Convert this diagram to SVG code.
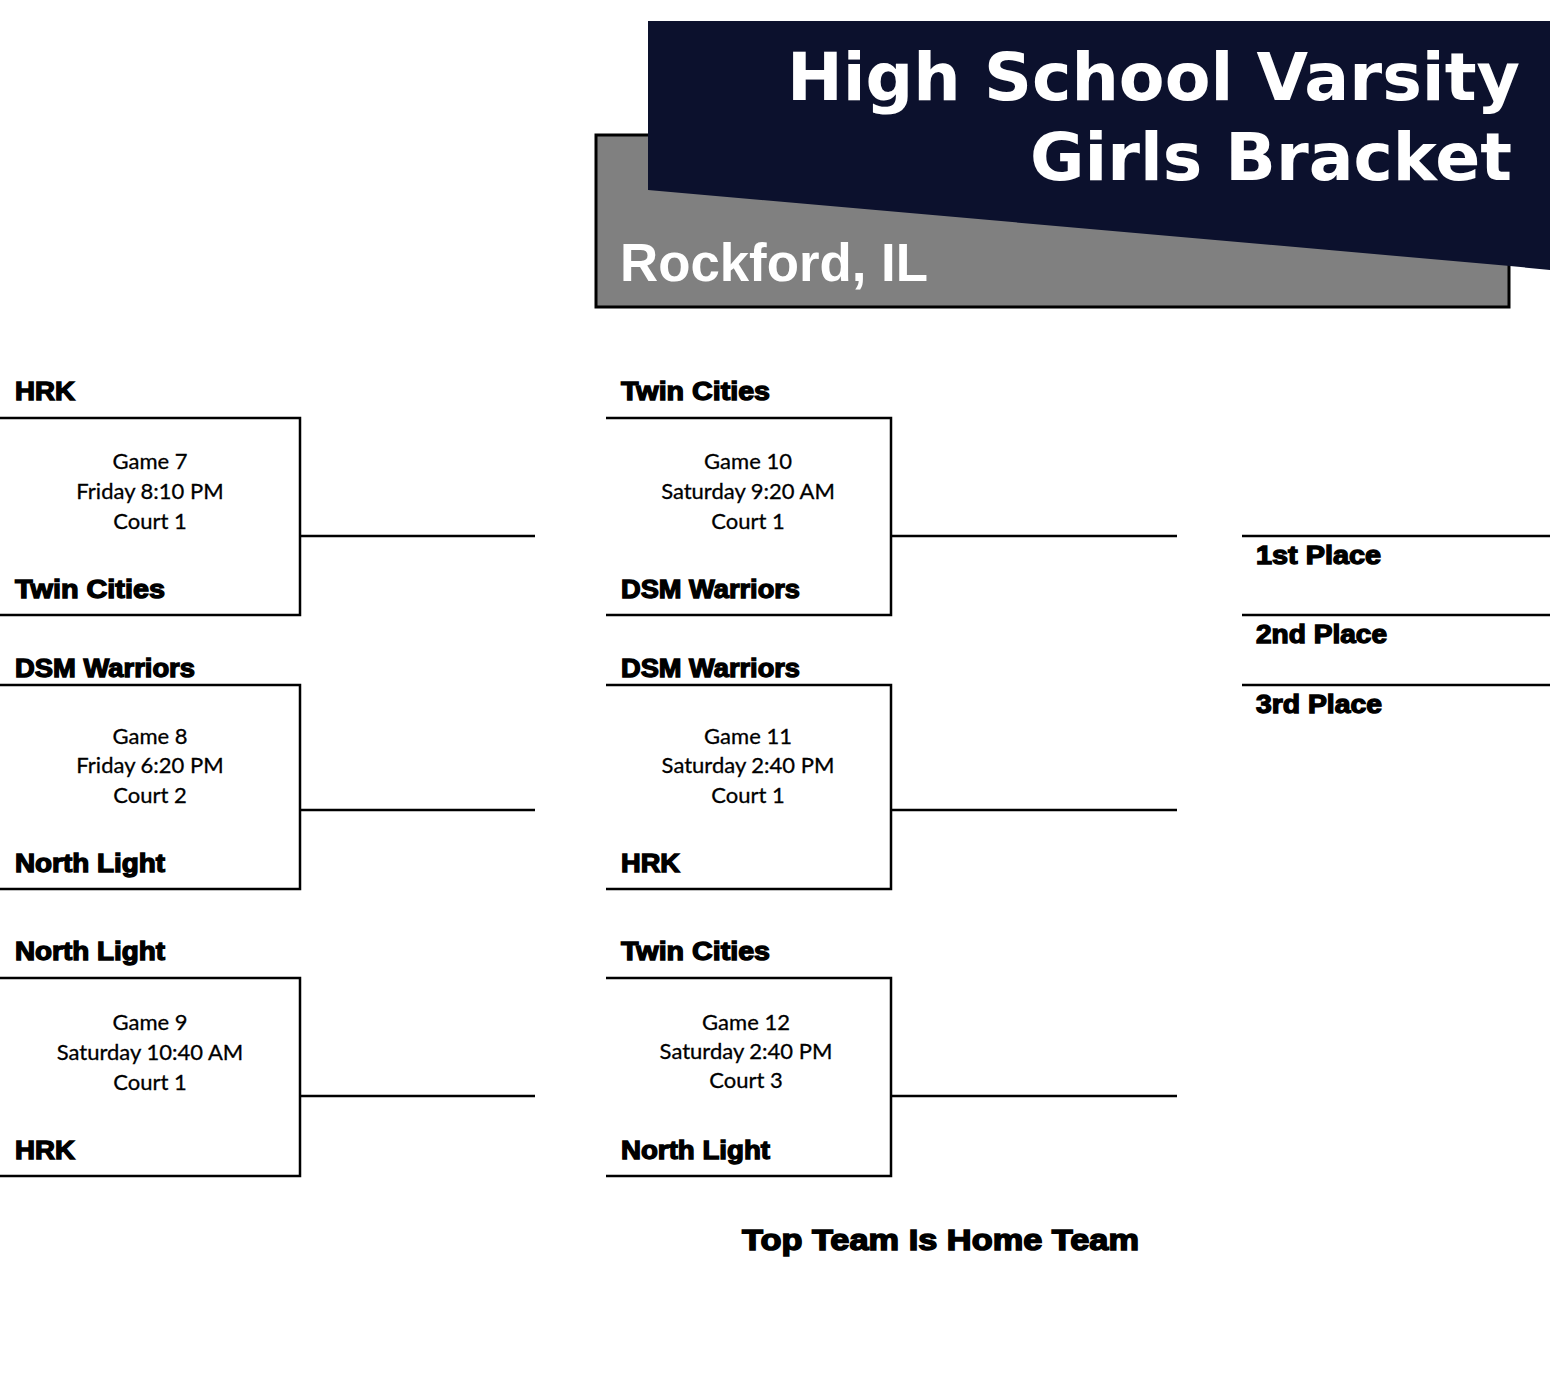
<svg xmlns="http://www.w3.org/2000/svg" width="1550" height="1392" viewBox="0 0 1550 1392">
<style>
.ln{stroke:#000;stroke-width:2.5;fill:none}
.team{font-family:"Liberation Sans",Arial,sans-serif;font-weight:bold;font-size:25px;fill:#000;stroke:#000;stroke-width:1.3}
.info{font-family:Lato,"Liberation Sans",sans-serif;font-size:22px;fill:#000;stroke:#000;stroke-width:0.3;text-anchor:middle}
.title{font-family:"DejaVu Sans",Verdana,sans-serif;font-weight:bold;font-size:66px;fill:#fff;text-anchor:end}
</style>
<rect width="1550" height="1392" fill="#fff"/>
<g id="header">
<rect x="596" y="135" width="913" height="172" fill="#808080" stroke="#000" stroke-width="3"/>
<polygon points="648,21 1550,21 1550,270 1510,266 648,190" fill="#0c112d"/>
<text class="title" x="1520" y="100" textLength="733" lengthAdjust="spacingAndGlyphs">High School Varsity</text>
<text class="title" x="1512" y="180" textLength="482" lengthAdjust="spacingAndGlyphs">Girls Bracket</text>
<text x="620" y="281" font-family="Liberation Sans,Arial,sans-serif" font-weight="bold" font-size="54" fill="#fff" textLength="308" lengthAdjust="spacingAndGlyphs">Rockford, IL</text>
</g>
<g id="connectors">
<line class="ln" x1="300" y1="536" x2="535" y2="536"/>
<line class="ln" x1="300" y1="810" x2="535" y2="810"/>
<line class="ln" x1="300" y1="1096" x2="535" y2="1096"/>
<line class="ln" x1="891" y1="536" x2="1177" y2="536"/>
<line class="ln" x1="891" y1="810" x2="1177" y2="810"/>
<line class="ln" x1="891" y1="1096" x2="1177" y2="1096"/>
</g>
<g id="game7">
<polyline class="ln" points="0,418 300,418 300,615 0,615"/>
<text class="team" x="15" y="400" textLength="60" lengthAdjust="spacingAndGlyphs">HRK</text>
<text class="info" x="150" y="469">Game 7</text>
<text class="info" x="150" y="499">Friday 8:10 PM</text>
<text class="info" x="150" y="529">Court 1</text>
<text class="team" x="15" y="598" textLength="150" lengthAdjust="spacingAndGlyphs">Twin Cities</text>
</g>
<g id="game8">
<polyline class="ln" points="0,685 300,685 300,889 0,889"/>
<text class="team" x="15" y="677" textLength="180" lengthAdjust="spacingAndGlyphs">DSM Warriors</text>
<text class="info" x="150" y="744">Game 8</text>
<text class="info" x="150" y="773">Friday 6:20 PM</text>
<text class="info" x="150" y="803">Court 2</text>
<text class="team" x="15" y="872" textLength="150" lengthAdjust="spacingAndGlyphs">North Light</text>
</g>
<g id="game9">
<polyline class="ln" points="0,978 300,978 300,1176 0,1176"/>
<text class="team" x="15" y="960" textLength="150" lengthAdjust="spacingAndGlyphs">North Light</text>
<text class="info" x="150" y="1030">Game 9</text>
<text class="info" x="150" y="1060">Saturday 10:40 AM</text>
<text class="info" x="150" y="1090">Court 1</text>
<text class="team" x="15" y="1159" textLength="60" lengthAdjust="spacingAndGlyphs">HRK</text>
</g>
<g id="game10">
<polyline class="ln" points="606,418 891,418 891,615 606,615"/>
<text class="team" x="621" y="400" textLength="149" lengthAdjust="spacingAndGlyphs">Twin Cities</text>
<text class="info" x="748" y="469">Game 10</text>
<text class="info" x="748" y="499">Saturday 9:20 AM</text>
<text class="info" x="748" y="529">Court 1</text>
<text class="team" x="621" y="598" textLength="179" lengthAdjust="spacingAndGlyphs">DSM Warriors</text>
</g>
<g id="game11">
<polyline class="ln" points="606,685 891,685 891,889 606,889"/>
<text class="team" x="621" y="677" textLength="179" lengthAdjust="spacingAndGlyphs">DSM Warriors</text>
<text class="info" x="748" y="744">Game 11</text>
<text class="info" x="748" y="773">Saturday 2:40 PM</text>
<text class="info" x="748" y="803">Court 1</text>
<text class="team" x="621" y="872" textLength="59" lengthAdjust="spacingAndGlyphs">HRK</text>
</g>
<g id="game12">
<polyline class="ln" points="606,978 891,978 891,1176 606,1176"/>
<text class="team" x="621" y="960" textLength="149" lengthAdjust="spacingAndGlyphs">Twin Cities</text>
<text class="info" x="746" y="1030">Game 12</text>
<text class="info" x="746" y="1059">Saturday 2:40 PM</text>
<text class="info" x="746" y="1088">Court 3</text>
<text class="team" x="621" y="1159" textLength="149" lengthAdjust="spacingAndGlyphs">North Light</text>
</g>
<g id="places">
<line class="ln" x1="1242" y1="536" x2="1550" y2="536"/>
<line class="ln" x1="1242" y1="615" x2="1550" y2="615"/>
<line class="ln" x1="1242" y1="685" x2="1550" y2="685"/>
<text class="team" x="1256" y="564" textLength="125" lengthAdjust="spacingAndGlyphs">1st Place</text>
<text class="team" x="1256" y="643" textLength="131" lengthAdjust="spacingAndGlyphs">2nd Place</text>
<text class="team" x="1256" y="713" textLength="126" lengthAdjust="spacingAndGlyphs">3rd Place</text>
</g>
<g id="note">
<text class="team" x="742" y="1250" textLength="397" lengthAdjust="spacingAndGlyphs" style="font-size:30px;stroke-width:1.5">Top Team Is Home Team</text>
</g>
</svg>
